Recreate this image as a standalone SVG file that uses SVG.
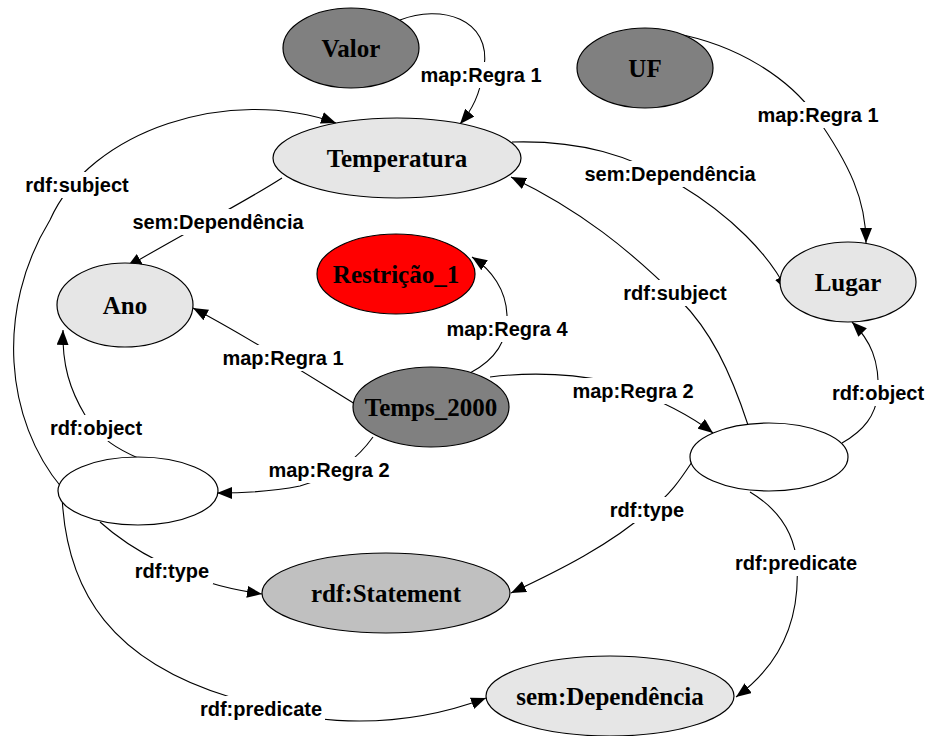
<svg xmlns="http://www.w3.org/2000/svg" width="929" height="736" viewBox="0 0 929 736">
  <style>
    .node ellipse { stroke: #000; stroke-width: 1.2; }
    .node text { font-family: "Liberation Serif", "Times New Roman", serif; font-weight: bold; font-size: 25px; text-anchor: middle; fill: #000; }
    .dark ellipse { fill: #808080; }
    .light ellipse { fill: #e6e6e6; }
    .mid ellipse { fill: #c0c0c0; }
    .red ellipse { fill: #ff0000; }
    .blank ellipse { fill: #ffffff; }
    .edge path { fill: none; stroke: #000; stroke-width: 1.1; marker-end: url(#arrow); }
    .lbl rect { fill: #ffffff; }
    .lbl text { font-family: "Liberation Sans", Arial, sans-serif; font-weight: bold; font-size: 20px; text-anchor: middle; fill: #000; }
  </style>
  <defs>
    <marker id="arrow" markerUnits="userSpaceOnUse" markerWidth="16" markerHeight="12" refX="15" refY="6" orient="auto">
      <path d="M0,0 L15,6 L0,12 z" fill="#000"/>
    </marker>
  </defs>
  <rect width="929" height="736" fill="#ffffff"/>

  <!-- connectors -->
  <g id="edges" class="edge">
    <path id="e-valor-temp" d="M400,20 C440,4 492,18 484,68 C480,95 472,110 460,124"/>
    <path id="e-uf-lugar" d="M673,33 C740,45 790,80 815,115 C850,165 866,200 866,243"/>
    <path id="e-temp-lugar" d="M512,142 C580,140 630,155 680,185 C730,215 770,255 787,291"/>
    <path id="e-temp-ano" d="M282,178 C240,205 180,235 127,267"/>
    <path id="e-temps-ano" d="M355,404 C300,370 250,338 193,308"/>
    <path id="e-temps-restr" d="M470,373 C495,360 508,340 507,315 C506,290 492,270 472,257"/>
    <path id="e-temps-bright" d="M490,377 C530,372 580,373 620,385 C660,400 690,415 713,433"/>
    <path id="e-temps-bleft" d="M373,437 C360,455 340,475 300,486 C270,492 245,493 217,493"/>
    <path id="e-bleft-ano" d="M138,458 C120,450 100,440 85,415 C70,390 62,365 63,330"/>
    <path id="e-bleft-temp" d="M62,488 C5,420 -5,310 50,220 C90,130 230,85 336,123"/>
    <path id="e-bleft-semdep" d="M62,495 C66,595 115,662 230,697 C280,718 380,738 486,698"/>
    <path id="e-bleft-stmt" d="M100,522 C120,540 140,552 160,562 C190,578 220,588 262,594"/>
    <path id="e-bright-stmt" d="M692,462 C680,480 670,495 650,510 C610,545 560,570 511,593"/>
    <path id="e-bright-semdep" d="M750,492 C780,510 795,535 797,565 C800,620 780,665 736,697"/>
    <path id="e-bright-temp" d="M748,425 C730,370 710,330 680,300 C630,250 580,210 511,177"/>
    <path id="e-bright-lugar" d="M842,443 C865,430 875,415 878,395 C880,360 870,340 852,322"/>
  </g>

  <!-- connector labels -->
  <g id="labels" class="lbl">
    <g><rect x="419" y="62" width="124" height="26"/><text x="481" y="82">map:Regra 1</text></g>
    <g><rect x="756" y="102" width="124" height="26"/><text x="818" y="122">map:Regra 1</text></g>
    <g><rect x="22" y="172" width="110" height="26"/><text x="77" y="192">rdf:subject</text></g>
    <g><rect x="128" y="209" width="180" height="26"/><text x="218" y="229">sem:Dependência</text></g>
    <g><rect x="580" y="161" width="180" height="26"/><text x="670" y="181">sem:Dependência</text></g>
    <g><rect x="620" y="280" width="110" height="26"/><text x="675" y="300">rdf:subject</text></g>
    <g><rect x="445" y="316" width="124" height="26"/><text x="507" y="336">map:Regra 4</text></g>
    <g><rect x="221" y="345" width="124" height="26"/><text x="283" y="365">map:Regra 1</text></g>
    <g><rect x="571" y="378" width="124" height="26"/><text x="633" y="398">map:Regra 2</text></g>
    <g><rect x="46" y="415" width="100" height="26"/><text x="96" y="435">rdf:object</text></g>
    <g><rect x="267" y="457" width="124" height="26"/><text x="329" y="477">map:Regra 2</text></g>
    <g><rect x="829" y="380" width="98" height="26"/><text x="878" y="400">rdf:object</text></g>
    <g><rect x="606" y="497" width="82" height="26"/><text x="647" y="517">rdf:type</text></g>
    <g><rect x="131" y="558" width="82" height="26"/><text x="172" y="578">rdf:type</text></g>
    <g><rect x="732" y="550" width="128" height="26"/><text x="796" y="570">rdf:predicate</text></g>
    <g><rect x="197" y="696" width="128" height="26"/><text x="261" y="716">rdf:predicate</text></g>
  </g>

  <!-- nodes -->
  <g id="valor" class="node dark"><ellipse cx="351" cy="48" rx="68" ry="40"/><text x="351" y="57">Valor</text></g>
  <g id="uf" class="node dark"><ellipse cx="645" cy="68" rx="68" ry="40"/><text x="645" y="77">UF</text></g>
  <g id="temperatura" class="node light"><ellipse cx="397" cy="158" rx="124" ry="40"/><text x="397" y="167">Temperatura</text></g>
  <g id="ano" class="node light"><ellipse cx="125" cy="305" rx="68" ry="42"/><text x="125" y="314">Ano</text></g>
  <g id="restricao1" class="node red"><ellipse cx="396" cy="274" rx="79" ry="40"/><text x="396" y="283">Restrição_1</text></g>
  <g id="lugar" class="node light"><ellipse cx="848" cy="282" rx="68" ry="40"/><text x="848" y="291">Lugar</text></g>
  <g id="temps2000" class="node dark"><ellipse cx="431" cy="407" rx="78" ry="40"/><text x="431" y="416">Temps_2000</text></g>
  <g id="stmt-left" class="node blank"><ellipse cx="138" cy="491" rx="80" ry="34"/></g>
  <g id="stmt-right" class="node blank"><ellipse cx="769" cy="457" rx="79" ry="34"/></g>
  <g id="rdf-statement" class="node mid"><ellipse cx="386" cy="593" rx="124" ry="40"/><text x="386" y="602">rdf:Statement</text></g>
  <g id="sem-dependencia" class="node light"><ellipse cx="610" cy="696" rx="124" ry="40"/><text x="610" y="705">sem:Dependência</text></g>
</svg>
